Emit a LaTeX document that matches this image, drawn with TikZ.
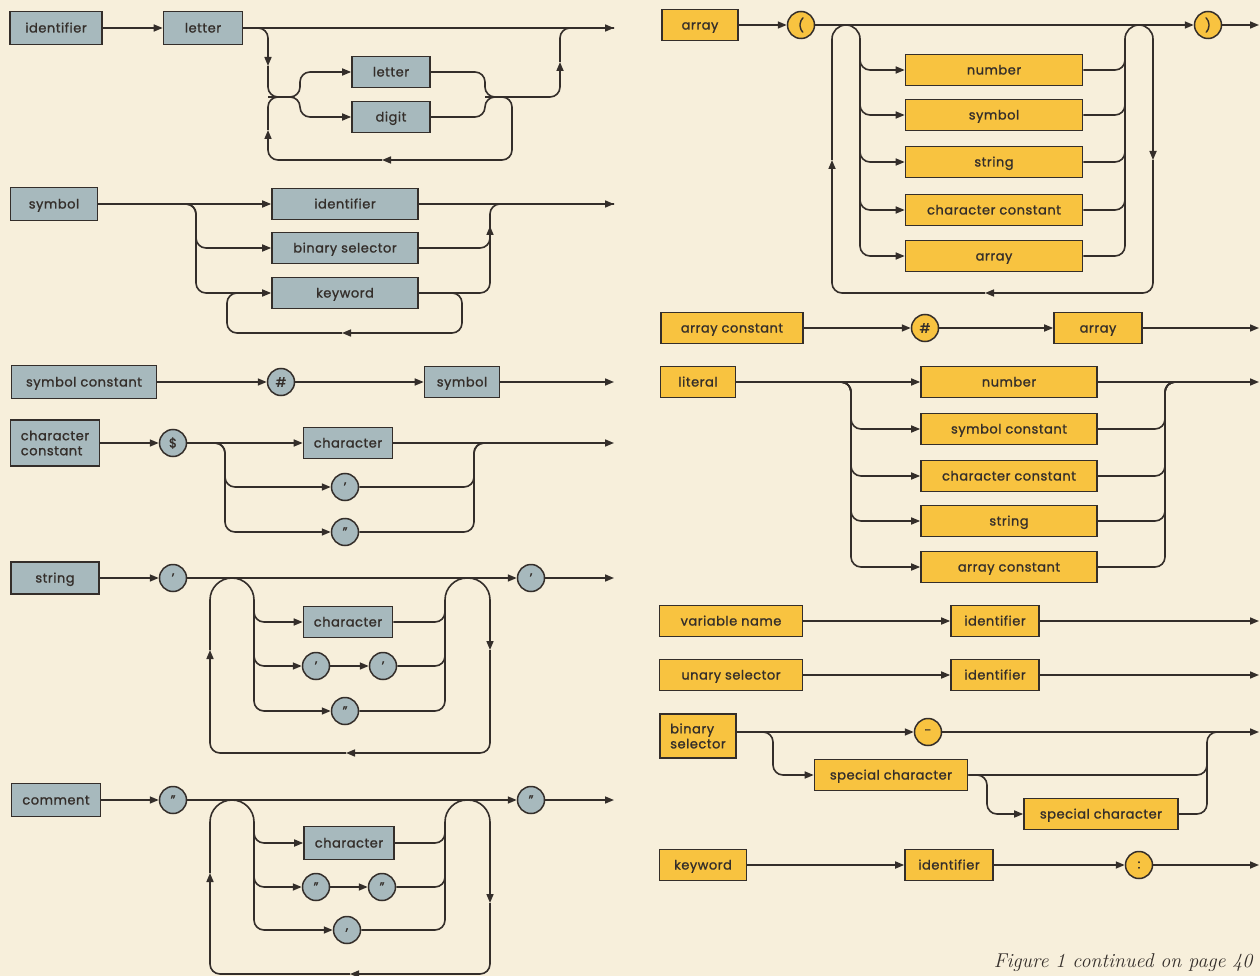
\documentclass[tikz,border=0pt]{standalone}
\usepackage{fontspec}
\newfontfamily\railfont[LetterSpace=4, FakeBold=1.2]{Poppins}
\usetikzlibrary{arrows.meta}
\definecolor{paper}{RGB}{247,239,219}
\definecolor{ink}{RGB}{52,46,42}
\definecolor{slate}{RGB}{167,185,189}
\definecolor{amber}{RGB}{248,195,64}

\begin{document}
\begin{tikzpicture}[x=1pt, y=-1pt,
	rail/.style={draw=ink, line width=1.6pt, rounded corners=10pt},
	arch/.style={rail, rounded corners=#1},
	>={Triangle[length=9pt,width=7pt]},
	box/.style={rectangle, draw=ink, line width=1.6pt, minimum height=31pt, inner sep=1pt, text=ink,
		font=\railfont\fontsize{13}{15}\selectfont, align=center},
	gbox/.style={box, fill=slate, minimum width=#1, text height=10pt, text depth=1pt},
	ybox/.style={box, fill=amber, minimum width=#1, text height=10pt, text depth=1pt},
	gcirc/.style={circle, draw=ink, line width=1.5pt, fill=slate, minimum size=27pt, inner sep=0pt, text=ink,
		font=\railfont\fontsize{13}{14}\selectfont},
	ycirc/.style={gcirc, fill=amber}]
	\fill[paper] (0,0) rectangle (1260,976);
	\useasboundingbox (0,0) rectangle (1260,976);

	% identifier
	\node[gbox=92pt, minimum height=33pt] (idf) at (56,28) {identifier};
	\node[gbox=79pt, minimum height=33pt] (let1) at (203,28) {letter};
	\node[gbox=78pt] (let2) at (391,72) {letter};
	\node[gbox=78pt] (dig) at (391,117) {digit};
	\coordinate (idfout) at (614,28);
	\coordinate (idfdn) at (268,66);
	\coordinate (idfj) at (268,97);
	\coordinate (idfm) at (485,97);
	\coordinate (idfup) at (560,62);
	\coordinate (idflb) at (382,160);
	\coordinate (idflu) at (268,130);
	\draw[rail,->] (idf) -- (let1);
	\draw[rail,->] (let1) -- (idfout);
	\draw[rail,->] (let1.east) -| (idfdn);
	\draw[rail,->] (idfdn) -- (idfj) -- (300,97) |- (let2);
	\draw[rail,->] (idfj) -- (300,97) |- (dig);
	\draw[rail] (let2.east) -| (idfm) -- (520,97);
	\draw[rail] (dig.east) -| (idfm) -- (520,97);
	\draw[rail,->] (idfm) -| (idfup);
	\draw[rail] (idfup) |- (idfout);
	\draw[rail,->] (idfm) -| (512,160) -- (idflb);
	\draw[rail,->] (idflb) -| (idflu);
	\draw[rail] (idflu) -- (idfj) -- (290,97);

	% symbol
	\node[gbox=87pt, minimum height=33pt] (sym) at (54,204) {symbol};
	\node[gbox=146pt] (sidf) at (345,204) {identifier};
	\node[gbox=146pt] (bsel) at (345,248) {binary selector};
	\node[gbox=146pt] (kw) at (345,293) {keyword};
	\coordinate (symout) at (614,204);
	\coordinate (symup) at (490,226);
	\coordinate (kwlb) at (342,333);
	\draw[rail,->] (sym) -- (sidf);
	\draw[rail,->] (sidf) -- (symout);
	\draw[rail,->] (sym.east) -| (196,248) -- (bsel);
	\draw[rail,->] (sym.east) -| (196,293) -- (kw);
	\draw[rail,->] (bsel.east) -| (symup);
	\draw[rail] (kw.east) -| (symup);
	\draw[rail] (symup) |- (symout);
	\draw[rail,->] (kw.east) -| (462,333) -- (kwlb);
	\draw[rail] (kwlb) -| (227,293) -- (250,293);

	% symbol constant
	\node[gbox=145pt, minimum height=33pt] (symc) at (84,382) {symbol constant};
	\node[gcirc] (hash1) at (281,382) {\#};
	\node[gbox=75pt] (sym2) at (462,382) {symbol};
	\coordinate (symcout) at (614,382);
	\draw[rail,->] (symc) -- (hash1);
	\draw[rail,->] (hash1) -- (sym2);
	\draw[rail,->] (sym2) -- (symcout);

	% character constant
	\node[box, fill=slate, minimum width=89pt, minimum height=46pt, align=left] (chc) at (55,443) {character\\constant};
	\node[gcirc] (dollar) at (173,443) {\$};
	\node[gbox=89pt] (chr1) at (348,443) {character};
	\node[gcirc] (q1) at (345,487) {’};
	\node[gcirc] (dq1) at (345,532) {”};
	\coordinate (chcout) at (614,443);
	\coordinate (chcm) at (474,443);
	\draw[rail,->] (chc) -- (dollar);
	\draw[rail,->] (dollar) -- (chr1);
	\draw[rail,->] (chr1) -- (chcout);
	\draw[rail,->] (dollar.east) -| (225,487) -- (q1);
	\draw[rail,->] (dollar.east) -| (225,532) -- (dq1);
	\draw[rail] (q1.east) -| (chcm) -- (495,443);
	\draw[rail] (dq1.east) -| (chcm) -- (495,443);

	% string
	\node[gbox=88pt, minimum height=32pt] (str) at (55,578) {string};
	\node[gcirc] (sq1) at (173,578) {’};
	\node[gcirc] (sq2) at (531,578) {’};
	\node[gbox=89pt] (chr2) at (348,622) {character};
	\node[gcirc] (sq3) at (316,666) {’};
	\node[gcirc] (sq4) at (383,666) {’};
	\node[gcirc] (dq2) at (345,711) {”};
	\coordinate (strout) at (614,578);
	\coordinate (strin) at (254,600);
	\coordinate (strmg) at (445,600);
	\coordinate (strdn) at (490,650);
	\coordinate (strlb) at (346,753);
	\coordinate (strup) at (210,650);
	\draw[rail,->] (str) -- (sq1);
	\draw[rail,->] (sq1) -- (sq2);
	\draw[rail,->] (sq2) -- (strout);
	\draw[arch=22pt] (strup) -- (210,578) -- (254,578) -- (strin);
	\draw[rail,->] (strin) |- (chr2);
	\draw[rail,->] (strin) |- (sq3);
	\draw[rail,->] (strin) |- (dq2);
	\draw[rail,->] (sq3) -- (sq4);
	\draw[rail] (chr2.east) -| (strmg);
	\draw[rail] (sq4.east) -| (strmg);
	\draw[rail] (dq2.east) -| (strmg);
	\draw[arch=22pt,->] (strmg) -- (445,578) -- (490,578) -- (strdn);
	\draw[rail,->] (strdn) |- (strlb);
	\draw[rail,->] (strlb) -| (strup);

	% comment
	\node[gbox=89pt, minimum height=33pt] (com) at (56,800) {comment};
	\node[gcirc] (cq1) at (173,800) {”};
	\node[gcirc] (cq2) at (531,800) {”};
	\node[gbox=90pt, minimum height=33pt] (chr3) at (349,843) {character};
	\node[gcirc] (cq3) at (316,887) {”};
	\node[gcirc] (cq4) at (382,887) {”};
	\node[gcirc] (comma) at (347,930) {,};
	\coordinate (comout) at (614,800);
	\coordinate (comin) at (254,822);
	\coordinate (commg) at (445,822);
	\coordinate (comdn) at (490,903);
	\coordinate (comlb) at (350,974);
	\coordinate (comup) at (210,873);
	\draw[rail,->] (com) -- (cq1);
	\draw[rail,->] (cq1) -- (cq2);
	\draw[rail,->] (cq2) -- (comout);
	\draw[arch=22pt] (comup) -- (210,800) -- (254,800) -- (comin);
	\draw[rail,->] (comin) |- (chr3);
	\draw[rail,->] (comin) |- (cq3);
	\draw[rail,->] (comin) |- (comma);
	\draw[rail,->] (cq3) -- (cq4);
	\draw[rail] (chr3.east) -| (commg);
	\draw[rail] (cq4.east) -| (commg);
	\draw[rail] (comma.east) -| (commg);
	\draw[arch=22pt,->] (commg) -- (445,800) -- (490,800) -- (comdn);
	\draw[rail,->] (comdn) |- (comlb);
	\draw[rail,->] (comlb) -| (comup);

	% array
	\node[ybox=76pt] (arr) at (700,25) {array};
	\node[ycirc] (lp) at (801,25) {(};
	\node[ycirc] (rp) at (1208,25) {)};
	\node[ybox=177pt] (an) at (994,70) {number};
	\node[ybox=177pt] (asym) at (994,115) {symbol};
	\node[ybox=177pt] (astr) at (994,162) {string};
	\node[ybox=177pt] (acc) at (994,210) {character constant};
	\node[ybox=177pt] (aarr) at (994,256) {array};
	\coordinate (arrout) at (1259,25);
	\coordinate (arrin) at (860,39);
	\coordinate (arrmg) at (1125,39);
	\coordinate (arrup) at (832,160);
	\coordinate (arrdn) at (1153,160);
	\coordinate (arrlb) at (985,293);
	\draw[rail,->] (arr) -- (lp);
	\draw[rail,->] (lp) -- (rp);
	\draw[rail,->] (rp) -- (arrout);
	\draw[arch=14pt] (arrup) -- (832,25) -- (860,25) -- (arrin);
	\draw[rail,->] (arrin) |- (an);
	\draw[rail,->] (arrin) |- (asym);
	\draw[rail,->] (arrin) |- (astr);
	\draw[rail,->] (arrin) |- (acc);
	\draw[rail,->] (arrin) |- (aarr);
	\draw[rail] (an.east) -| (arrmg);
	\draw[rail] (asym.east) -| (arrmg);
	\draw[rail] (astr.east) -| (arrmg);
	\draw[rail] (acc.east) -| (arrmg);
	\draw[rail] (aarr.east) -| (arrmg);
	\draw[arch=14pt,->] (arrmg) -- (1125,25) -- (1153,25) -- (arrdn);
	\draw[rail,->] (arrdn) |- (arrlb);
	\draw[rail,->] (arrlb) -| (arrup);

	% array constant
	\node[ybox=142pt] (ac) at (732,328) {array constant};
	\node[ycirc] (hash2) at (925,328) {\#};
	\node[ybox=88pt] (arr2) at (1098,328) {array};
	\coordinate (acout) at (1259,328);
	\draw[rail,->] (ac) -- (hash2);
	\draw[rail,->] (hash2) -- (arr2);
	\draw[rail,->] (arr2) -- (acout);

	% literal
	\node[ybox=75pt] (lit) at (698,382) {literal};
	\node[ybox=176pt] (ln) at (1009,382) {number};
	\node[ybox=176pt] (lsc) at (1009,429) {symbol constant};
	\node[ybox=176pt] (lcc) at (1009,476) {character constant};
	\node[ybox=176pt] (lstr) at (1009,521) {string};
	\node[ybox=176pt] (lac) at (1009,567) {array constant};
	\coordinate (litout) at (1259,382);
	\coordinate (litm) at (1165,382);
	\draw[rail,->] (lit) -- (ln);
	\draw[rail,->] (ln) -- (litout);
	\draw[rail,->] (lit.east) -| (851,429) -- (lsc);
	\draw[rail,->] (lit.east) -| (851,476) -- (lcc);
	\draw[rail,->] (lit.east) -| (851,521) -- (lstr);
	\draw[rail,->] (lit.east) -| (851,567) -- (lac);
	\draw[rail] (lsc.east) -| (litm) -- (1190,382);
	\draw[rail] (lcc.east) -| (litm) -- (1190,382);
	\draw[rail] (lstr.east) -| (litm) -- (1190,382);
	\draw[rail] (lac.east) -| (litm) -- (1190,382);

	% variable name, unary selector
	\node[ybox=143pt] (vn) at (731,621) {variable name};
	\node[ybox=88pt] (vid) at (995,621) {identifier};
	\node[ybox=143pt] (us) at (731,675) {unary selector};
	\node[ybox=88pt] (uid) at (995,675) {identifier};
	\coordinate (vnout) at (1259,621);
	\coordinate (usout) at (1259,675);
	\draw[rail,->] (vn) -- (vid);
	\draw[rail,->] (vid) -- (vnout);
	\draw[rail,->] (us) -- (uid);
	\draw[rail,->] (uid) -- (usout);

	% binary selector
	\node[box, fill=amber, minimum width=76pt, minimum height=44pt, align=left] (bs) at (698,736) {binary\\selector};
	\node[ycirc] (minus) at (928,732) {-};
	\node[ybox=153pt] (spc1) at (891,775) {special character};
	\node[ybox=154pt] (spc2) at (1101,814) {special character};
	\coordinate (bsout) at (1259,732);
	\coordinate (bsm) at (1207,732);
	\draw[rail,->] (bs.east |- minus) -- (minus);
	\draw[rail,->] (minus) -- (bsout);
	\draw[rail,->] (bs.east |- minus) -| (773,775) -- (spc1);
	\draw[rail,->] (spc1.east) -| (987,814) -- (spc2);
	\draw[rail] (spc1.east) -| (bsm) -- (1230,732);
	\draw[rail] (spc2.east) -| (1207,760);

	% keyword
	\node[ybox=87pt] (kwd) at (703,865) {keyword};
	\node[ybox=88pt] (kid) at (949,865) {identifier};
	\node[ycirc] (colon) at (1139,865) {:};
	\coordinate (kwdout) at (1259,865);
	\draw[rail,->] (kwd) -- (kid);
	\draw[rail,->] (kid) -- (colon);
	\draw[rail,->] (colon) -- (kwdout);

	\node[anchor=base east, text=ink, font=\itshape\fontsize{20}{22}\selectfont] (cap) at (1256,967) {Figure 1 continued on page 40};
\end{tikzpicture}
\end{document}
